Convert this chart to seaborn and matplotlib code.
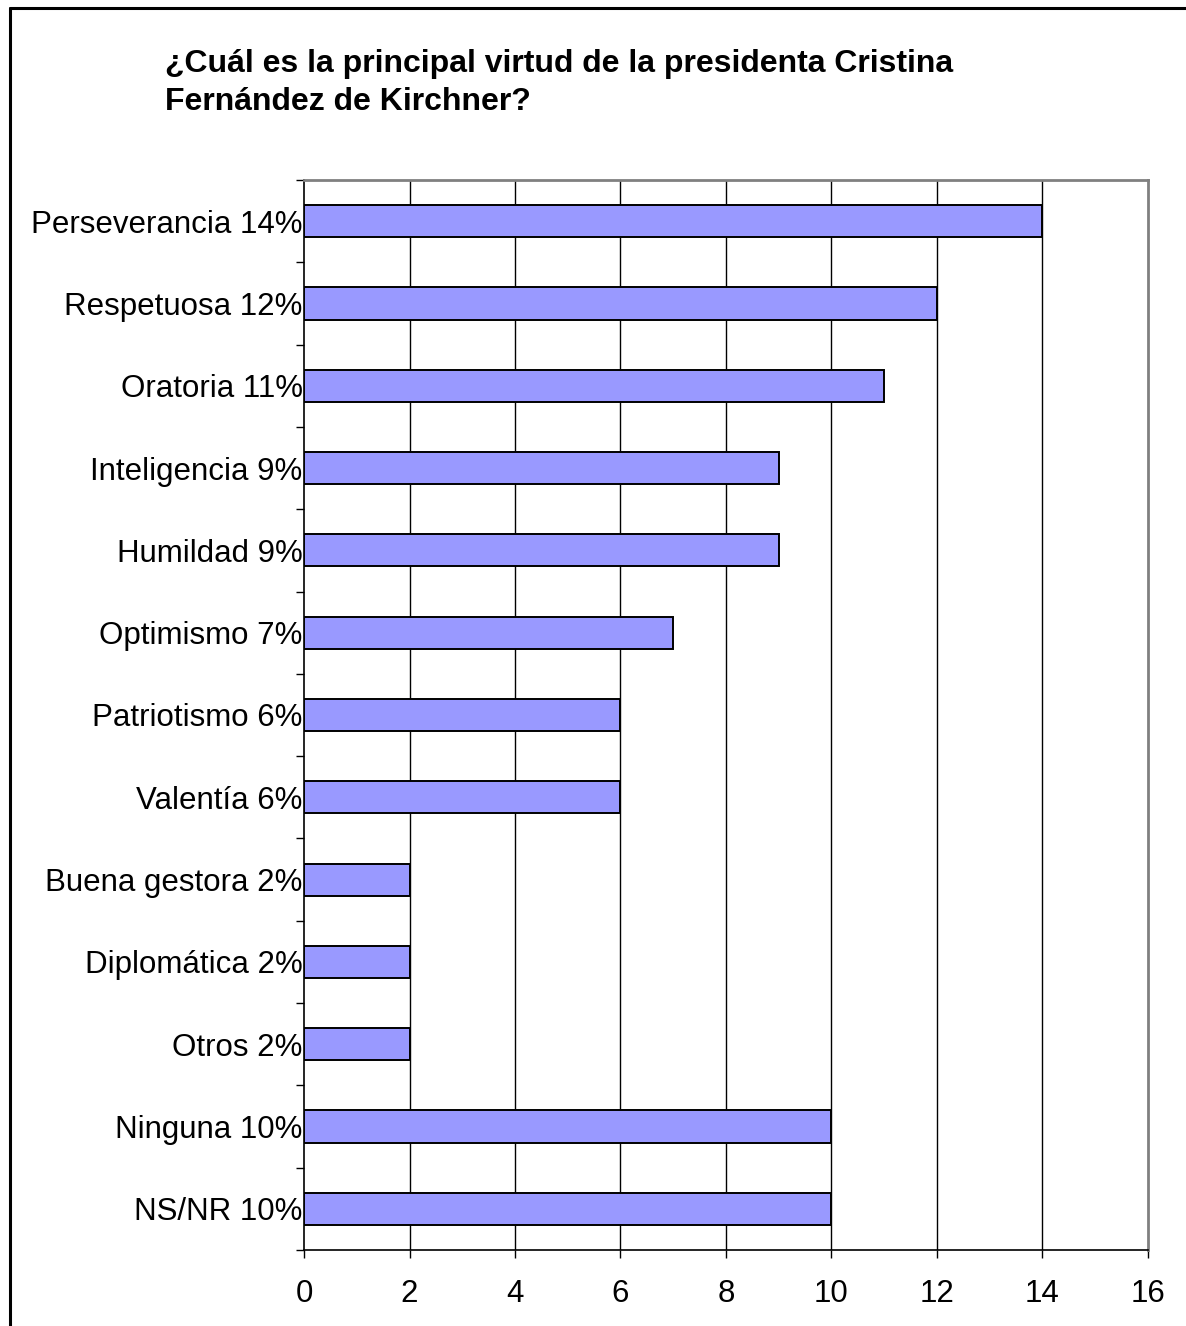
import matplotlib.pyplot as plt
import numpy as np
import pandas as pd
import seaborn as sns
from matplotlib.lines import Line2D

TITLE = "¿Cuál es la principal virtud de la presidenta Cristina\nFernández de Kirchner?"
CATEGORIES = [
    "Perseverancia 14%",
    "Respetuosa 12%",
    "Oratoria 11%",
    "Inteligencia 9%",
    "Humildad 9%",
    "Optimismo 7%",
    "Patriotismo 6%",
    "Valentía 6%",
    "Buena gestora 2%",
    "Diplomática 2%",
    "Otros 2%",
    "Ninguna 10%",
    "NS/NR 10%",
]
VALUES = [14, 12, 11, 9, 9, 7, 6, 6, 2, 2, 2, 10, 10]
X_TICKS = [0, 2, 4, 6, 8, 10, 12, 14, 16]

sns.set_style("white")
plt.rcParams["font.family"] = ["Liberation Sans", "DejaVu Sans"]
plt.rcParams.update(
    {
        "text.color": "black",
        "xtick.color": "black",
        "ytick.color": "black",
        "xtick.labelcolor": "black",
        "ytick.labelcolor": "black",
    }
)

df = pd.DataFrame({"label": CATEGORIES, "value": VALUES})

fig = plt.figure(figsize=(11.86, 13.26), dpi=100)
ax = fig.add_axes([304 / 1186, 1 - 1250 / 1326, (1148 - 304) / 1186, (1250 - 180) / 1326])

sns.barplot(
    data=df,
    x="value",
    y="label",
    orient="h",
    color="#9999FF",
    saturation=1,
    edgecolor="black",
    linewidth=1.4,
    width=0.39,
    ax=ax,
    zorder=3,
)

ax.set_xlim(0, 16)
ax.set_ylim(len(CATEGORIES) - 0.5, -0.5)
ax.set_xticks(X_TICKS)
ax.set_xticklabels([str(t) for t in X_TICKS], fontsize=22.5)
ax.set_xlabel("")
ax.set_ylabel("")
ax.set_yticks(np.arange(len(CATEGORIES)))
ax.set_yticklabels(CATEGORIES, fontsize=22.5)
ax.set_yticks(np.arange(len(CATEGORIES) + 1) - 0.5, minor=True)
ax.tick_params(axis="y", which="major", length=0, pad=1)
ax.tick_params(axis="y", which="minor", length=6, width=1, color="black", direction="out", left=True)
ax.tick_params(axis="x", which="major", length=6, width=1, color="black", direction="out", pad=15, bottom=True)

for t in X_TICKS[1:-1]:
    ax.axvline(t, color="black", linewidth=1, zorder=1)

for side in ["left", "bottom"]:
    ax.spines[side].set_color("black")
    ax.spines[side].set_linewidth(1.2)
for side in ["top", "right"]:
    ax.spines[side].set_color("#808080")
    ax.spines[side].set_linewidth(2)
    ax.spines[side].set_visible(True)

fig.text(
    165 / 1186,
    1 - 83 / 1326,
    TITLE,
    ha="left",
    va="center",
    fontsize=23,
    fontweight="bold",
    linespacing=1.32,
)

# outer chart border (left and top edges visible)
fig.add_artist(Line2D([10 / 1186, 10 / 1186], [0, 1 - 8 / 1326], transform=fig.transFigure, color="black", linewidth=2.2))
fig.add_artist(Line2D([10 / 1186, 1], [1 - 8 / 1326, 1 - 8 / 1326], transform=fig.transFigure, color="black", linewidth=2.2))

fig.savefig("out.png", dpi=100)
